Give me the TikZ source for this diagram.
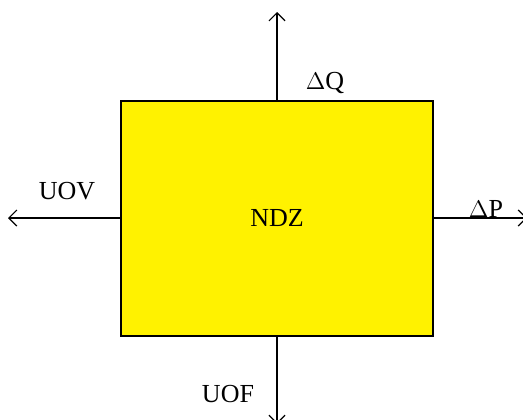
\documentclass[tikz,border=0pt]{standalone}
\usepackage{fontspec}
\setmainfont{Liberation Serif}
\usetikzlibrary{arrows.meta,positioning}
\tikzstyle{axisArrow} = [semithick, -{Straight Barb[length=4pt,width=8pt]}]
\tikzstyle{zoneBox} = [draw, thick, fill=yellow, minimum width=156pt, minimum height=117.5pt, inner sep=0pt]
\tikzstyle{axisLabel} = [font=\fontsize{13pt}{15pt}\selectfont]

\begin{document}
\begin{tikzpicture}[x=0.5pt,y=-0.5pt]
				\useasboundingbox (0,0) rectangle (523,419);
				\clip (0,0) rectangle (523,419);
				\node[zoneBox,axisLabel] (ndz) at (277,218.5) {NDZ};
				\coordinate (top) at (277,12);
				\coordinate (bot) at (277,424);
				\coordinate (lft) at (8,218);
				\coordinate (rgt) at (527,218);
				\draw[axisArrow] (ndz.north -| top) -- (top);
				\draw[axisArrow] (ndz.south -| bot) -- (bot);
				\draw[axisArrow] (ndz.west |- lft) -- (lft);
				\draw[axisArrow] (ndz.east |- rgt) -- (rgt);
				\node[axisLabel] (dq) at (325,83) {$\Delta$Q};
				\node[axisLabel] (uov) at (67,191) {UOV};
				\node[axisLabel] (dp) at (486,209) {$\Delta$P};
				\node[axisLabel] (uof) at (228,394) {UOF};
				\end{tikzpicture}
\end{document}
